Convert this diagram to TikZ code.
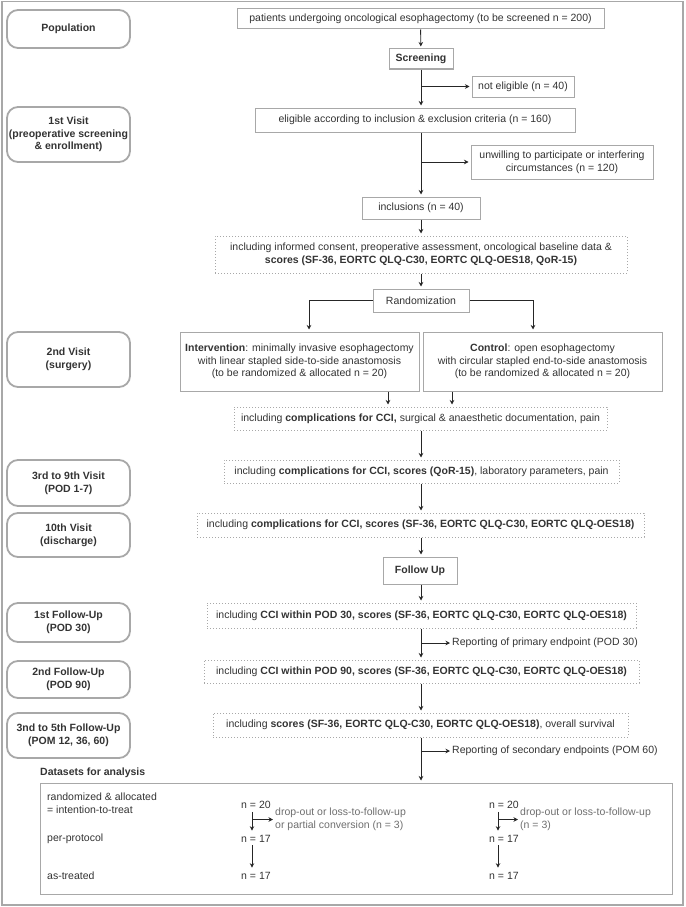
\documentclass[tikz,border=0pt]{standalone}
\usepackage{fontspec}
\setmainfont{Liberation Sans}
\usetikzlibrary{arrows.meta, positioning}
\definecolor{boxgray}{HTML}{A8A8A8}
\definecolor{txtgray}{HTML}{333333}
\definecolor{notegray}{HTML}{6E6E6E}

\begin{document}
\begin{tikzpicture}[
    x=1pt, y=-1pt,
    font=\fontsize{10.5}{12.7}\selectfont, text=txtgray,
    phase/.style={rectangle, draw=boxgray, line width=1.8pt, rounded corners=11pt, minimum width=123pt, align=center, inner sep=0pt, font=\fontsize{10.5}{12.7}\selectfont\bfseries},
    block/.style={rectangle, draw=boxgray, line width=1pt, align=center, inner sep=0pt},
    note/.style={block, dotted},
    plain/.style={anchor=west, align=left, inner sep=0pt},
    arrow/.style={-{Stealth[length=4.5pt, width=4.5pt]}, line width=0.9pt, draw=black!85, shorten >=2pt},
]
    \useasboundingbox (0,0) rectangle (685,907);
    \draw[boxgray, line width=1.5pt] (2,1.5) rectangle (683,905);

    % phases on the left
    \node[phase, minimum height=38pt] (pop) at (68.5,29) {Population};
    \node[phase, minimum height=55pt] (visA) at (68.5,134.5) {1st Visit\\(preoperative screening\\\& enrollment)};
    \node[phase, minimum height=55pt] (visB) at (68.5,359.5) {2nd Visit\\(surgery)};
    \node[phase, minimum height=46pt] (visC) at (68.5,483) {3rd to 9th Visit\\(POD 1-7)};
    \node[phase, minimum height=44pt] (visD) at (68.5,535) {10th Visit\\(discharge)};
    \node[phase, minimum height=39pt] (fupA) at (68.5,622.5) {1st Follow-Up\\(POD 30)};
    \node[phase, minimum height=37pt] (fupB) at (68.5,679.5) {2nd Follow-Up\\(POD 90)};
    \node[phase, minimum height=45pt] (fupC) at (68.5,735.5) {3nd to 5th Follow-Up\\(POM 12, 36, 60)};

    % main flow
    \coordinate (axis) at (421,0);
    \node[block, minimum width=367pt, minimum height=20pt] (pat) at (420.5,19) {patients undergoing oncological esophagectomy (to be screened n = 200)};
    \node[block, minimum width=64pt, minimum height=20pt] (screen) at (421,59) {\textbf{Screening}};
    \node[block, minimum width=102pt, minimum height=21pt] (notelig) at (523,86.5) {not eligible (n = 40)};
    \node[block, minimum width=320pt, minimum height=24pt] (elig) at (415,120) {eligible according to inclusion \& exclusion criteria (n = 160)};
    \node[block, minimum width=182pt, minimum height=34pt] (unwill) at (562,162) {unwilling to participate or interfering\\circumstances (n = 120)};
    \node[block, minimum width=118pt, minimum height=22pt] (incl) at (421,208) {inclusions (n = 40)};
    \node[note, minimum width=412pt, minimum height=37pt] (base) at (421,254.5) {including informed consent, preoperative assessment, oncological baseline data \&\\\textbf{scores (SF-36, EORTC QLQ-C30, EORTC QLQ-OES18, QoR-15)}};
    \node[block, minimum width=96pt, minimum height=23pt] (rand) at (421,300.5) {Randomization};
    \node[block, minimum width=239pt, minimum height=59pt] (interv) at (299.5,361.5) {\textbf{Intervention}: minimally invasive esophagectomy\\with linear stapled side-to-side anastomosis\\(to be randomized \& allocated n = 20)};
    \node[block, minimum width=239pt, minimum height=59pt] (ctrl) at (542.5,361.5) {\textbf{Control}: open esophagectomy\\with circular stapled end-to-side anastomosis\\(to be randomized \& allocated n = 20)};
    \node[note, minimum width=373pt, minimum height=23pt] (surg) at (420.5,418.5) {including \textbf{complications for CCI,} surgical \& anaesthetic documentation, pain};
    \node[note, minimum width=395pt, minimum height=23pt] (postop) at (421.5,471.5) {including \textbf{complications for CCI, scores (QoR-15)}, laboratory parameters, pain};
    \node[note, minimum width=447pt, minimum height=24pt] (disch) at (420.5,525) {including \textbf{complications for CCI, scores (SF-36, EORTC QLQ-C30, EORTC QLQ-OES18)}};
    \node[block, minimum width=74pt, minimum height=27pt] (follow) at (420,570.5) {\textbf{Follow Up}};
    \node[note, minimum width=429pt, minimum height=25pt] (fuone) at (421.5,615.5) {including \textbf{CCI within POD 30, scores (SF-36, EORTC QLQ-C30, EORTC QLQ-OES18)}};
    \node[plain] (prim) at (452,643) {Reporting of primary endpoint (POD 30)};
    \node[note, minimum width=435pt, minimum height=23pt] (futwo) at (421.5,671.5) {including \textbf{CCI within POD 90, scores (SF-36, EORTC QLQ-C30, EORTC QLQ-OES18)}};
    \node[note, minimum width=415pt, minimum height=24pt] (futhree) at (420.5,725) {including \textbf{scores (SF-36, EORTC QLQ-C30, EORTC QLQ-OES18)}, overall survival};
    \node[plain] (sec) at (452,751) {Reporting of secondary endpoints (POM 60)};

    % datasets
    \node[plain] (dslabel) at (40,773) {\textbf{Datasets for analysis}};
    \node[block, minimum width=632pt, minimum height=111pt] (data) at (356,838.5) {};
    \node[plain] (itt) at (47,803.5) {randomized \& allocated\\= intention-to-treat};
    \node[plain] (pp) at (47,838.5) {per-protocol};
    \node[plain] (astr) at (47,875.5) {as-treated};
    \node[plain] (nia) at (241,805) {n = 20};
    \node[plain] (npa) at (241,838.5) {n = 17};
    \node[plain] (nta) at (241,875.5) {n = 17};
    \node[plain, text=notegray] (dropa) at (275,819.5) {drop-out or loss-to-follow-up\\or partial conversion (n = 3)};
    \node[plain] (nib) at (489,805) {n = 20};
    \node[plain] (npb) at (489,838.5) {n = 17};
    \node[plain] (ntb) at (489,875.5) {n = 17};
    \node[plain, text=notegray] (dropb) at (520,819.5) {drop-out or loss-to-follow-up\\(n = 3)};

    % connectors
    \draw[arrow] (pat) -- (screen);
    \draw[arrow] (screen.south) -- (screen.south |- elig.north);
    \draw[arrow] (screen.south |- notelig.west) -- (notelig.west);
    \draw[arrow] (axis |- elig.south) -- (axis |- incl.north);
    \draw[arrow] (axis |- unwill.west) -- (unwill.west);
    \draw[arrow] (incl) -- (base);
    \draw[arrow] (base) -- (rand);
    \draw[arrow] (rand.west) -| ([xshift=9.5pt]interv.north);
    \draw[arrow] (rand.east) -| ([xshift=-9.5pt]ctrl.north);
    \draw[arrow] ([xshift=88.5pt]interv.south) -- ([xshift=88.5pt]interv.south |- surg.north);
    \draw[arrow] ([xshift=-90.5pt]ctrl.south) -- ([xshift=-90.5pt]ctrl.south |- surg.north);
    \draw[arrow] (axis |- surg.south) -- (axis |- postop.north);
    \draw[arrow] (axis |- postop.south) -- (axis |- disch.north);
    \draw[arrow] (axis |- disch.south) -- (axis |- follow.north);
    \draw[arrow] (axis |- follow.south) -- (axis |- fuone.north);
    \draw[arrow] (axis |- fuone.south) -- (axis |- futwo.north);
    \draw[arrow] (axis |- prim.west) -- (prim.west);
    \draw[arrow] (axis |- futwo.south) -- (axis |- futhree.north);
    \draw[arrow] (axis |- futhree.south) -- (axis |- data.north);
    \draw[arrow] (axis |- sec.west) -- (sec.west);

    \path ([xshift=11pt]nia.south west) coordinate (va) ([xshift=9pt]nib.south west) coordinate (vb);
    \draw[arrow, shorten <=3pt, shorten >=4pt] (va) -- (va |- npa.north);
    \draw[arrow, shorten <=3pt, shorten >=4pt] (va |- npa.south) -- (va |- nta.north);
    \draw[arrow] (va |- dropa.west) -- (dropa.west);
    \draw[arrow, shorten <=3pt, shorten >=4pt] (vb) -- (vb |- npb.north);
    \draw[arrow, shorten <=3pt, shorten >=4pt] (vb |- npb.south) -- (vb |- ntb.north);
    \draw[arrow] (vb |- dropb.west) -- (dropb.west);
\end{tikzpicture}
\end{document}
